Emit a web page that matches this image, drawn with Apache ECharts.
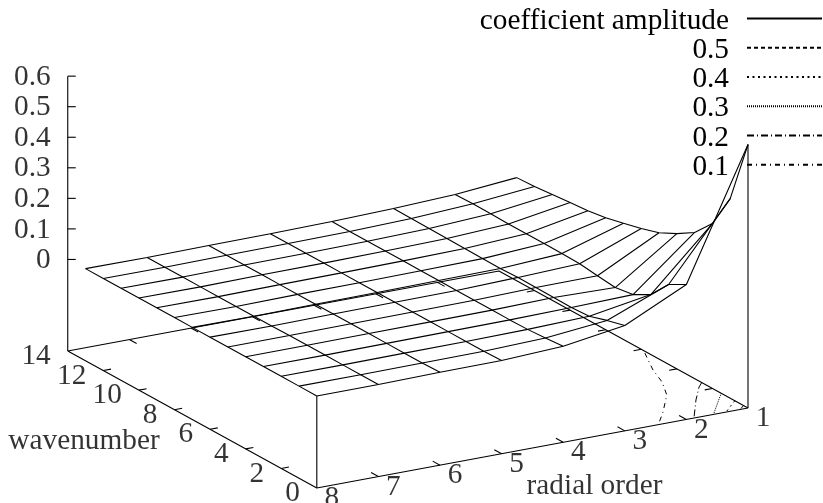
<!DOCTYPE html>
<html><head><meta charset="utf-8">
<style>html,body{margin:0;padding:0;background:#fff}#c{width:823px;height:503px}</style>
<script src="https://cdn.jsdelivr.net/npm/echarts@6/dist/echarts.min.js"></script>
</head><body><div id="c"></div>
<script>
// ---- data ----
const radialOrders = [1,2,3,4,5,6,7,8];
const wavenumbers = [0,1,2,3,4,5,6,7,8,9,10,11,12,13];
const zTicks = [0,0.1,0.2,0.3,0.4,0.5,0.6];
const wavenumberTicks = [0,2,4,6,8,10,12,14];
const radial1 = [.563,.354,.240,.179,.143,.114,.096,.081,.067,.058,.053,.047,.041,.038];
const radial2 = [.142,.110,.045,.013,.004,.0108,.018,.019,.020,.020,.020,.021,.022,.020];
const radial3 = [.0454,.030,.0117,.008,.009,.0098,.0105,.0077,.008,.009,.0098,.0105,.0111,.0117];
const radial4 = [.015,.010,.006,.005,.005,.005,.005,.0055,.0055,.006,.006,.006,.006,.0065];
const radial5 = [.0056,.004,.004,.004,.004,.004,.004,.004,.004,.004,.004,.004,.004,.004];
const radial6 = [.0046,.003,.003,.003,.003,.003,.003,.003,.003,.003,.003,.003,.003,.003];
const radial7 = [.002,.002,.002,.002,.002,.002,.001,.001,.001,.001,.001,.001,.001,.001];
const radial8 = [.0015,.002,.002,.002,.002,.002,.002,.002,.002,.002,.002,.002,.002,.002];
const amplitude = [radial1,radial2,radial3,radial4,radial5,radial6,radial7,radial8];
// contour lines on the base, as [radial order, wavenumber]
const contour05 = [[1,.25],[1.13,0]];
const contour04 = [[1,.74],[1.2,.33],[1.355,0]];
const contour03 = [[1,1.5],[1.1,1.24],[1.56,0]];
const contour02 = [[1,2.6],[1.13,2.3],[1.455,1.35],[1.877,0]];
const contour01 = [[1.04,5.66],[1.315,4.25],[1.47,3.2],[1.7,2.14],[2.12,.9],[2.455,0]];
const legendNames = ['coefficient amplitude','0.5','0.4','0.3','0.2','0.1'];

// ---- view projection (gnuplot-style oblique view) ----
const ORIGIN = [748,408], DR = [-61.6,11.43], DW = [-17.79,-9.79], DZ = -305.5, Z_BASE = -91.5;
function project(r,w,z){
  return [ORIGIN[0]+(r-1)*DR[0]+w*DW[0],
          ORIGIN[1]+(r-1)*DR[1]+w*DW[1]+(z===null?0:Z_BASE+z*DZ)];
}
const FONT='"Liberation Serif","Times New Roman",serif';
const LW=1.1;

function lineSeries(name,pts,extra){
  return Object.assign({type:'line',name,data:pts,symbol:'none',silent:true,animation:false,
    lineStyle:{color:'#000',width:LW},clip:false},extra||{});
}
const series=[];
// surface mesh
amplitude.forEach((row,i)=>{
  series.push(lineSeries(legendNames[0],row.map((z,j)=>project(radialOrders[i],wavenumbers[j],z))));
});
wavenumbers.forEach((w,j)=>{
  series.push(lineSeries(legendNames[0],amplitude.map((row,i)=>project(radialOrders[i],w,row[j]))));
});
// contours
const dashes={ '0.5':[4,3],'0.4':[2,3.5],'0.3':[1,1],'0.2':[7,3,1,3],'0.1':[5,4,1,4] };
[contour05,contour04,contour03,contour02,contour01].forEach((c,k)=>{
  const nm=legendNames[k+1];
  series.push(lineSeries(nm,c.map(p=>project(p[0],p[1],null)),{lineStyle:{color:'#000',width:1,type:dashes[nm]}}));
});
// box
const box=[project(8,14,null),project(8,0,null),project(1,0,null),project(1,14,null),project(8,14,null)];
series.push(lineSeries('box',box));
series.push(lineSeries('zaxis',[project(8,14,null),project(8,14,.6)]));
series.push(lineSeries('c1',[project(8,0,null),project(8,0,radial8[0])]));
series.push(lineSeries('c2',[project(1,0,null),project(1,0,radial1[0])]));
// ticks
const TR=0.125, TW=0.41;
function tick(a,b){series.push(lineSeries('tick',[a,b]));}
zTicks.forEach(z=>{const p=project(8,14,z);tick(p,[p[0]+8,p[1]]);});
wavenumberTicks.slice(1,-1).forEach(w=>{
  tick(project(8,w,null),project(8-TR,w,null));
  tick(project(1,w,null),project(1+TR,w,null));
});
radialOrders.slice(1,-1).forEach(r=>{
  tick(project(r,0,null),project(r,TW,null));
  tick(project(r,14,null),project(r,14-TW,null));
});
// labels
function labelSeries(pts,offset,align){
  return {type:'scatter',data:pts,symbolSize:0,silent:true,animation:false,clip:false,
    label:{show:true,position:'inside',offset,align,verticalAlign:'middle',
      formatter:p=>p.data[2],fontFamily:FONT,fontSize:29.3,color:'#000',textBorderWidth:0}};
}
series.push(labelSeries(zTicks.map(z=>[...project(8,14,z),String(z)]),[-17,1],'right'));
series.push(labelSeries(wavenumberTicks.map(w=>[...project(8,w,null),String(w)]),[-17,5.5],'right'));
series.push(labelSeries(radialOrders.map(r=>[...project(r,0,null),String(r)]),[15,10.5],'center'));
series.push(labelSeries([[84,441,'wavenumber'],[594.5,486,'radial order']],[0,0],'center'));

const chart=echarts.init(document.getElementById('c'),null,{renderer:'canvas'});
chart.setOption({
  animation:false,backgroundColor:'#fff',
  grid:{left:0,right:0,top:0,bottom:0,containLabel:false},
  xAxis:{type:'value',min:0,max:823,show:false},
  yAxis:{type:'value',min:0,max:503,inverse:true,show:false},
  legend:{data:legendNames,orient:'vertical',align:'right',right:0,top:1.5,itemWidth:75,itemHeight:29,itemGap:-4.75,
    selectedMode:false,padding:0,itemStyle:{color:'rgba(0,0,0,0)',borderWidth:0,opacity:0},
    formatter:n=>'{t|'+n+'}',
    textStyle:{fontFamily:FONT,fontSize:29.3,color:'#000',
      rich:{t:{fontFamily:FONT,fontSize:29.3,color:'#000',lineHeight:24,padding:[5,13,0,0]}}}},
  series
});
</script></body></html>
